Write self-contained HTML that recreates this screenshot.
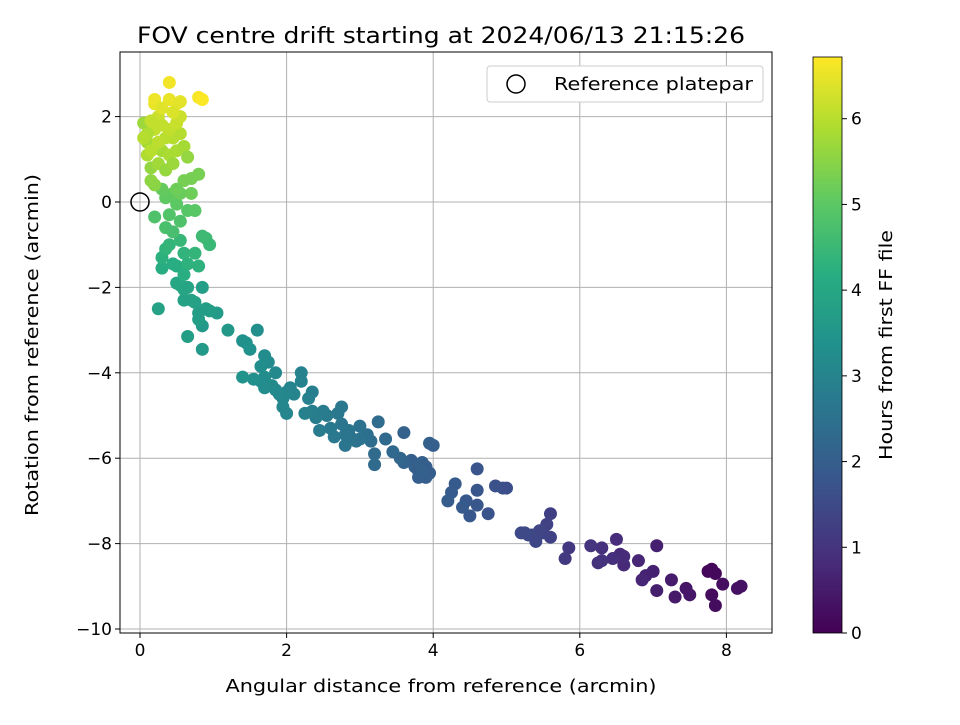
<!DOCTYPE html>
<html><head><meta charset="utf-8"><style>
body{margin:0;background:#fff;}
svg text{font-family:"DejaVu Sans","Liberation Sans",sans-serif;fill:#000;}
</style></head><body>
<svg id="chart" width="960" height="720" xmlns="http://www.w3.org/2000/svg">
<rect width="960" height="720" fill="#fff"/>
<g id="grid"></g>
<g id="points"></g>
<g id="axes"></g>
<text x="441" y="43" font-size="22" text-anchor="middle" textLength="608" lengthAdjust="spacingAndGlyphs">FOV centre drift starting at 2024/06/13 21:15:26</text>
<text x="441" y="692" font-size="18" text-anchor="middle" textLength="431" lengthAdjust="spacingAndGlyphs">Angular distance from reference (arcmin)</text>
<text transform="translate(38,345) rotate(-90)" font-size="18" text-anchor="middle" textLength="342" lengthAdjust="spacingAndGlyphs">Rotation from reference (arcmin)</text>
<g>
<rect x="487" y="66" width="276" height="36" rx="3" fill="#fff" stroke="#ccc"/>
<circle cx="516" cy="84" r="9" fill="none" stroke="#000" stroke-width="1.5"/>
<text x="554" y="90" font-size="18" textLength="199" lengthAdjust="spacingAndGlyphs">Reference platepar</text>
</g>
<defs><linearGradient id="vir" x1="0" y1="1" x2="0" y2="0">
<stop offset="0" stop-color="#440154"/><stop offset="0.125" stop-color="#472d7b"/><stop offset="0.25" stop-color="#3b528b"/><stop offset="0.375" stop-color="#2c728e"/><stop offset="0.5" stop-color="#21918c"/><stop offset="0.625" stop-color="#28ae80"/><stop offset="0.75" stop-color="#5ec962"/><stop offset="0.875" stop-color="#addc30"/><stop offset="1" stop-color="#fde725"/>
</linearGradient></defs>
<rect x="813" y="57" width="29" height="576" fill="url(#vir)" stroke="#000" stroke-width="0.8"/>
<g id="cbar"></g>
<text transform="translate(892,345) rotate(-90)" font-size="18" text-anchor="middle" textLength="230" lengthAdjust="spacingAndGlyphs">Hours from first FF file</text>
</svg>
<script>
const xTicks=[0,2,4,6,8];
const yTicks=[2,0,-2,-4,-6,-8,-10];
const cTicks=[0,1,2,3,4,5,6];
const cMax=6.72;
const xs=[7.75,7.8,7.85,7.8,7.85,7.95,8.15,8.2,7.45,7.5,7.3,7.25,7.05,7.05,7.0,6.9,6.85,6.8,6.6,6.55,6.6,6.5,6.45,6.3,6.25,6.3,6.15,5.85,5.8,5.6,5.6,5.55,5.5,5.45,5.4,5.35,5.3,5.25,5.2,
5.0,4.95,4.85,4.75,4.6,4.6,4.6,4.5,4.45,4.4,4.3,4.25,4.2,
3.6,3.7,3.75,3.8,3.8,3.85,3.9,3.9,3.95,3.95,4.0,3.85,3.6,3.55,3.45,3.35,3.25,3.2,3.2,3.15,3.1,3.0,3.0,2.95,2.9,2.85,2.8,2.8,2.75,2.75,2.7,2.65,2.6,2.55,2.5,2.45,2.4,2.35,2.35,2.3,2.25,2.2,2.2,2.1,2.05,2.0,2.0,1.95,1.95,1.9,1.85,1.85,1.8,1.75,1.7,1.7,1.7,1.65,1.65,1.6,1.55,1.5,1.45,1.4,1.4,
1.2,1.05,0.95,0.9,0.85,0.85,0.85,0.8,0.8,0.75,0.7,0.65,0.65,0.6,0.6,0.55,0.5,0.5,0.45,0.25,0.3,0.3,0.35,0.4,0.55,0.6,0.65,0.6,0.8,0.75,0.85,0.9,0.95,
0.2,0.35,0.45,0.55,0.65,0.75,0.4,0.5,0.45,0.35,0.3,0.55,0.7,0.8,0.7,0.6,0.5,
0.05,0.1,0.1,0.15,0.2,0.15,0.25,0.3,0.35,0.4,0.45,0.5,0.45,0.55,0.6,0.65,0.35,0.2,0.25,0.3,0.15,0.1,0.4,0.5,0.55,0.5,0.2,0.2,0.3,0.4,0.45,0.4,0.55,0.8,0.85,0.05,0.25,0.15];
const ys=[-8.65,-8.6,-8.7,-9.2,-9.45,-8.95,-9.05,-9.0,-9.05,-9.2,-9.25,-8.85,-9.1,-8.05,-8.65,-8.75,-8.85,-8.4,-8.5,-8.25,-8.3,-7.9,-8.35,-8.1,-8.45,-8.4,-8.05,-8.1,-8.35,-7.3,-7.85,-7.55,-7.75,-7.7,-7.95,-7.8,-7.8,-7.75,-7.75,
-6.7,-6.7,-6.65,-7.3,-6.25,-6.75,-7.1,-7.35,-7.0,-7.15,-6.6,-6.8,-7.0,
-5.4,-6.05,-6.2,-6.3,-6.45,-6.1,-6.2,-6.45,-6.35,-5.65,-5.7,-6.3,-6.1,-6.0,-5.85,-5.55,-5.15,-6.15,-5.9,-5.6,-5.45,-5.25,-5.55,-5.6,-5.55,-5.35,-5.45,-5.7,-5.2,-4.8,-4.95,-5.5,-5.3,-5.0,-4.9,-5.35,-5.05,-4.9,-4.45,-4.6,-4.95,-4.2,-4.0,-4.5,-4.35,-4.45,-4.95,-4.8,-4.6,-4.5,-4.0,-4.4,-4.3,-3.75,-3.6,-4.1,-4.35,-4.2,-3.85,-3.0,-4.15,-3.45,-3.3,-3.25,-4.1,
-3.0,-2.6,-2.55,-2.5,-2.0,-2.9,-3.45,-2.75,-2.6,-2.35,-2.3,-3.15,-2.0,-2.3,-2.05,-1.95,-1.9,-1.5,-1.45,-2.5,-1.55,-1.3,-1.1,-1.0,-0.9,-1.2,-1.45,-1.7,-1.5,-1.2,-0.8,-0.85,-1.0,
-0.35,-0.6,-0.7,-0.45,-0.2,-0.2,-0.3,-0.05,0.2,0.1,0.3,0.2,0.2,0.65,0.55,0.5,0.3,
1.85,1.4,1.1,0.8,0.4,0.5,0.9,1.2,0.75,1.1,0.9,1.2,1.5,1.6,1.3,1.05,1.5,1.7,2.0,1.8,1.9,1.6,1.7,1.85,2.0,2.3,2.3,2.4,2.2,2.4,2.1,2.8,2.35,2.45,2.4,1.5,1.4,1.2];
const hours=[0.1,0.12,0.15,0.2,0.22,0.25,0.3,0.32,0.4,0.42,0.45,0.5,0.55,0.6,0.62,0.65,0.7,0.72,0.78,0.8,0.82,0.85,0.88,0.92,0.95,0.97,1.0,1.1,1.12,1.25,1.3,1.32,1.35,1.38,1.4,1.42,1.45,1.48,1.5,
1.6,1.62,1.65,1.7,1.75,1.78,1.8,1.82,1.85,1.88,1.9,1.92,1.95,
2.1,2.0,2.05,2.0,2.02,2.05,2.0,2.0,2.0,2.05,2.02,2.08,2.15,2.2,2.25,2.3,2.35,2.3,2.32,2.4,2.45,2.5,2.5,2.52,2.55,2.58,2.6,2.6,2.62,2.65,2.68,2.7,2.72,2.75,2.78,2.8,2.82,2.85,2.88,2.9,2.92,2.95,2.98,3.0,3.02,3.05,3.05,3.08,3.1,3.12,3.15,3.15,3.18,3.2,3.22,3.22,3.25,3.25,3.28,3.3,3.32,3.35,3.38,3.4,3.42,
3.55,3.65,3.7,3.72,3.75,3.6,3.6,3.7,3.72,3.8,3.82,3.7,3.9,3.85,3.9,3.95,3.98,4.1,4.15,3.85,4.15,4.25,4.35,4.4,4.45,4.35,4.3,4.2,4.3,4.4,4.55,4.55,4.5,
4.8,4.75,4.7,4.8,4.9,4.95,4.85,5.0,5.1,5.05,5.1,5.15,5.2,5.3,5.3,5.3,5.2,
5.7,5.8,5.9,5.6,5.5,5.55,5.75,5.8,5.65,5.85,5.7,5.85,5.95,5.95,5.8,5.6,6.0,6.1,6.2,6.1,6.1,5.9,6.1,6.15,6.2,6.45,6.5,6.55,6.4,6.5,6.35,6.6,6.45,6.65,6.7,5.95,6.05,6.0];
const X=v=>140+v*73.3, Y=v=>202-v*42.7, L=120,R=772,T=52,B=633;
const NS="http://www.w3.org/2000/svg";
function mk(t,a,p){const e=document.createElementNS(NS,t);for(const k in a)e.setAttribute(k,a[k]);p.appendChild(e);return e;}
const vir=[[68,1,84],[71,45,123],[59,82,139],[44,114,142],[33,145,140],[40,174,128],[94,201,98],[173,220,48],[253,231,37]];
function col(h){let t=Math.max(0,Math.min(1,h/cMax))*8,i=Math.min(7,Math.floor(t)),f=t-i;const c=vir[i].map((v,k)=>Math.round(v+(vir[i+1][k]-v)*f));return `rgb(${c})`;}
const grid=document.getElementById('grid'),axes=document.getElementById('axes'),pts=document.getElementById('points'),cb=document.getElementById('cbar');
xTicks.forEach(v=>{
const g=mk('line',{x1:X(v),x2:X(v),y1:T,y2:B,stroke:'#b0b0b0','stroke-width':1},grid);


mk('line',{x1:X(v),x2:X(v),y1:B,y2:B+5,stroke:'#000'},axes);
const t=mk('text',{x:X(v),y:B+23,'font-size':17,'text-anchor':'middle'},axes);t.textContent=v;


});
yTicks.forEach(v=>{
const g=mk('line',{x1:L,x2:R,y1:Y(v),y2:Y(v),stroke:'#b0b0b0','stroke-width':1},grid);


mk('line',{x1:L-5,x2:L,y1:Y(v),y2:Y(v),stroke:'#000'},axes);
const t=mk('text',{x:L-8,y:Y(v)+6,'font-size':17,'text-anchor':'end'},axes);t.textContent=(v<0?'\u2212'+(-v):v);


});
mk('rect',{x:L,y:T,width:R-L,height:B-T,fill:'none',stroke:'#000','stroke-width':1},axes);
xs.forEach((x,i)=>{
const c=mk('circle',{cx:X(x),cy:Y(ys[i]),r:6.5,fill:col(hours[i])},pts);


});
const ref=mk('circle',{cx:X(0),cy:Y(0),r:9,fill:'none',stroke:'#000','stroke-width':1.5},pts);


cTicks.forEach(v=>{
const y=633-v*(576/cMax);
mk('line',{x1:842,x2:847,y1:y,y2:y,stroke:'#000'},cb);
const t=mk('text',{x:851,y:y+6,'font-size':17},cb);t.textContent=v;


});
</script>
</body></html>
